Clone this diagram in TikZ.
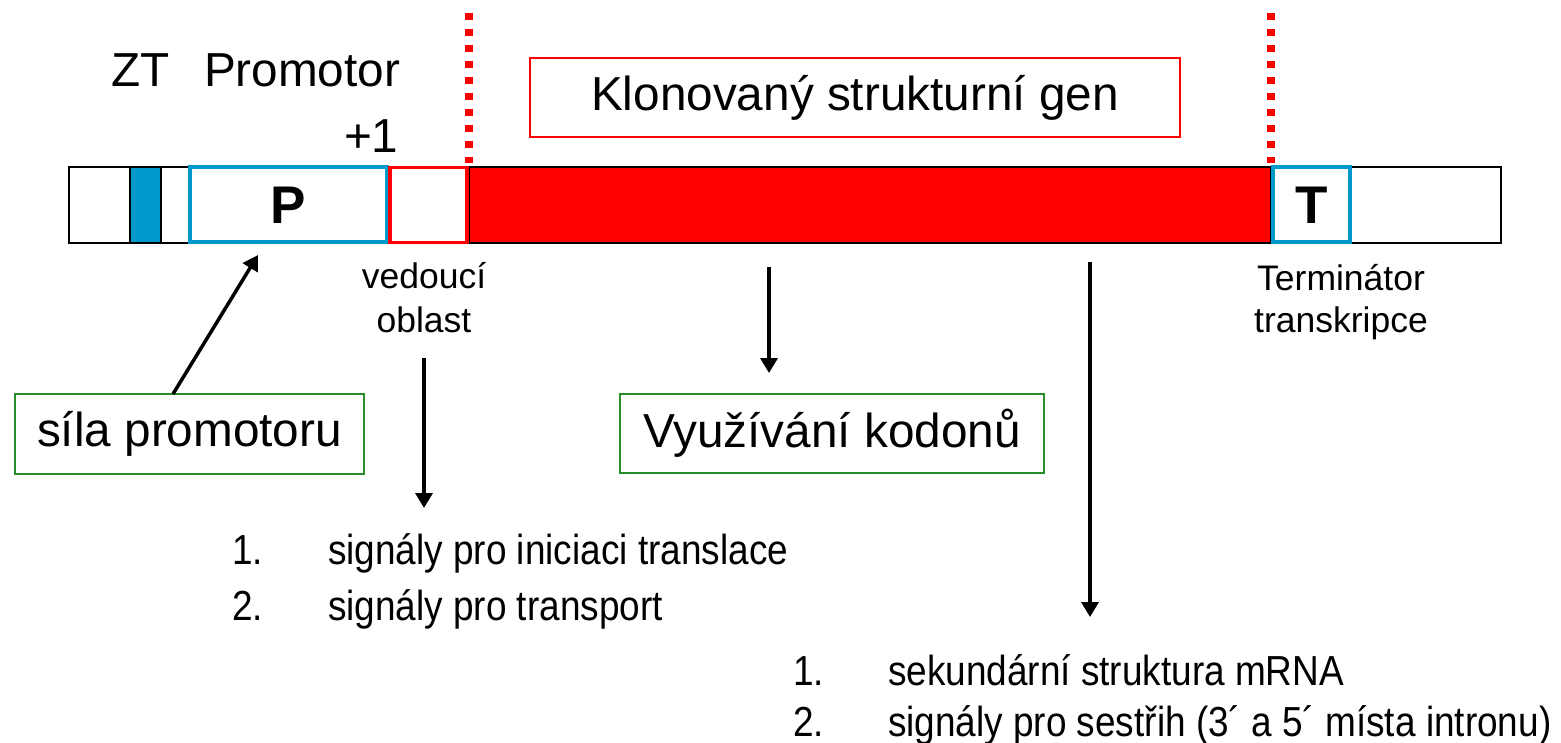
\documentclass[tikz,border=0pt]{standalone}
\usepackage{fontspec}
\setmainfont{Liberation Sans}
\newfontfamily\narrowfont[FakeStretch=0.88]{Liberation Sans}
\usetikzlibrary{arrows.meta}
\definecolor{myblue}{RGB}{0,153,204}
\definecolor{mygreen}{RGB}{40,140,40}
\definecolor{myred}{RGB}{255,0,0}
\begin{document}
\begin{tikzpicture}[x=1pt,y=-1pt,
  arr/.style={line width=3.5pt,-{Triangle[length=15pt,width=17pt]}},
  bigtxt/.style={font=\fontsize{47.7}{57}\selectfont},
  midtxt/.style={font=\fontsize{35.5}{42}\selectfont},
  listtxt/.style={font=\narrowfont\fontsize{42}{50}\selectfont},
  lbl/.style={inner sep=0pt,outer sep=0pt},
  greenbox/.style={draw=mygreen,line width=2pt,inner sep=0pt,bigtxt},
  bluebox/.style={draw=myblue,line width=4pt,inner sep=0pt,font=\bfseries\fontsize{53}{60}\selectfont},
  dots/.style={myred,line width=8pt,dash pattern=on 7pt off 9pt}
]
\useasboundingbox (0,0) rectangle (1561,743);

% the construct bar
\node[draw=black,line width=2pt,minimum width=1432pt,minimum height=76pt,inner sep=0pt] (bar) at (785,205) {};
\node[draw=black,fill=myblue,line width=2pt,minimum width=31pt,minimum height=76pt,inner sep=0pt] (zt) at (145.5,205) {};
\node[draw=black,fill=myred,line width=2.5pt,minimum width=802pt,minimum height=76pt,inner sep=0pt] (gene) at (870,205) {};
\node[bluebox,minimum width=197pt,minimum height=75pt] (P) at (288.5,205) {P};
\node[draw=myred,line width=3.5pt,minimum width=77pt,minimum height=75pt,inner sep=0pt] (lead) at (428.5,205) {};
\node[bluebox,minimum width=77pt,minimum height=75pt] (T) at (1311.5,205) {T};

% dotted borders of the cloned gene
\coordinate (d1t) at (469,13);
\coordinate (d1b) at (469,163);
\coordinate (d2t) at (1271,13);
\coordinate (d2b) at (1271,163);
\draw[dots] (d1t) -- (d1b);
\draw[dots] (d2t) -- (d2b);

% top labels
\node[lbl,bigtxt,anchor=base west] (ztl) at (111,87) {ZT};
\node[lbl,bigtxt,anchor=base west] (prom) at (204,87) {Promotor};
\node[lbl,bigtxt,anchor=base west] (plus) at (344,153) {+1};
\node[draw=myred,line width=2pt,minimum width=650pt,minimum height=79pt,inner sep=0pt,bigtxt] (klon) at (855,97.5) {Klonovaný strukturní gen};

% labels under the bar
\node[lbl,midtxt,anchor=base] (ved) at (424,289) {vedoucí};
\node[lbl,midtxt,anchor=base] (obl) at (424,333) {oblast};
\node[lbl,midtxt,anchor=base] (term) at (1341,291) {Terminátor};
\node[lbl,midtxt,anchor=base] (trans) at (1341,333) {transkripce};

% green boxes
\node[greenbox,minimum width=349pt,minimum height=80pt] (sila) at (189.5,434) {síla promotoru};
\node[greenbox,minimum width=424pt,minimum height=79pt] (kod) at (832,433.5) {Využívání kodonů};

% arrows
\coordinate (a1s) at (173,394);
\coordinate (a1e) at (258,255);
\draw[arr] (a1s) -- (a1e);
\coordinate (a2s) at (424,358);
\coordinate (a2e) at (424,508);
\draw[arr] (a2s) -- (a2e);
\coordinate (a3s) at (769,267);
\coordinate (a3e) at (769,373);
\draw[arr] (a3s) -- (a3e);
\coordinate (a4s) at (1090,262);
\coordinate (a4e) at (1090,617);
\draw[arr] (a4s) -- (a4e);

% lists
\node[lbl,listtxt,anchor=base west] (n11) at (232,564) {1.};
\node[lbl,listtxt,anchor=base west] (t11) at (328,564) {signály pro iniciaci translace};
\node[lbl,listtxt,anchor=base west] (n12) at (232,620) {2.};
\node[lbl,listtxt,anchor=base west] (t12) at (328,620) {signály pro transport};
\node[lbl,listtxt,anchor=base west] (n21) at (793,685) {1.};
\node[lbl,listtxt,anchor=base west] (t21) at (888,685) {sekundární struktura mRNA};
\node[lbl,listtxt,anchor=base west] (n22) at (793,736) {2.};
\node[lbl,listtxt,anchor=base west] (t22) at (888,736) {signály pro sestřih (3´ a 5´ místa intronu)};
\end{tikzpicture}
\end{document}
